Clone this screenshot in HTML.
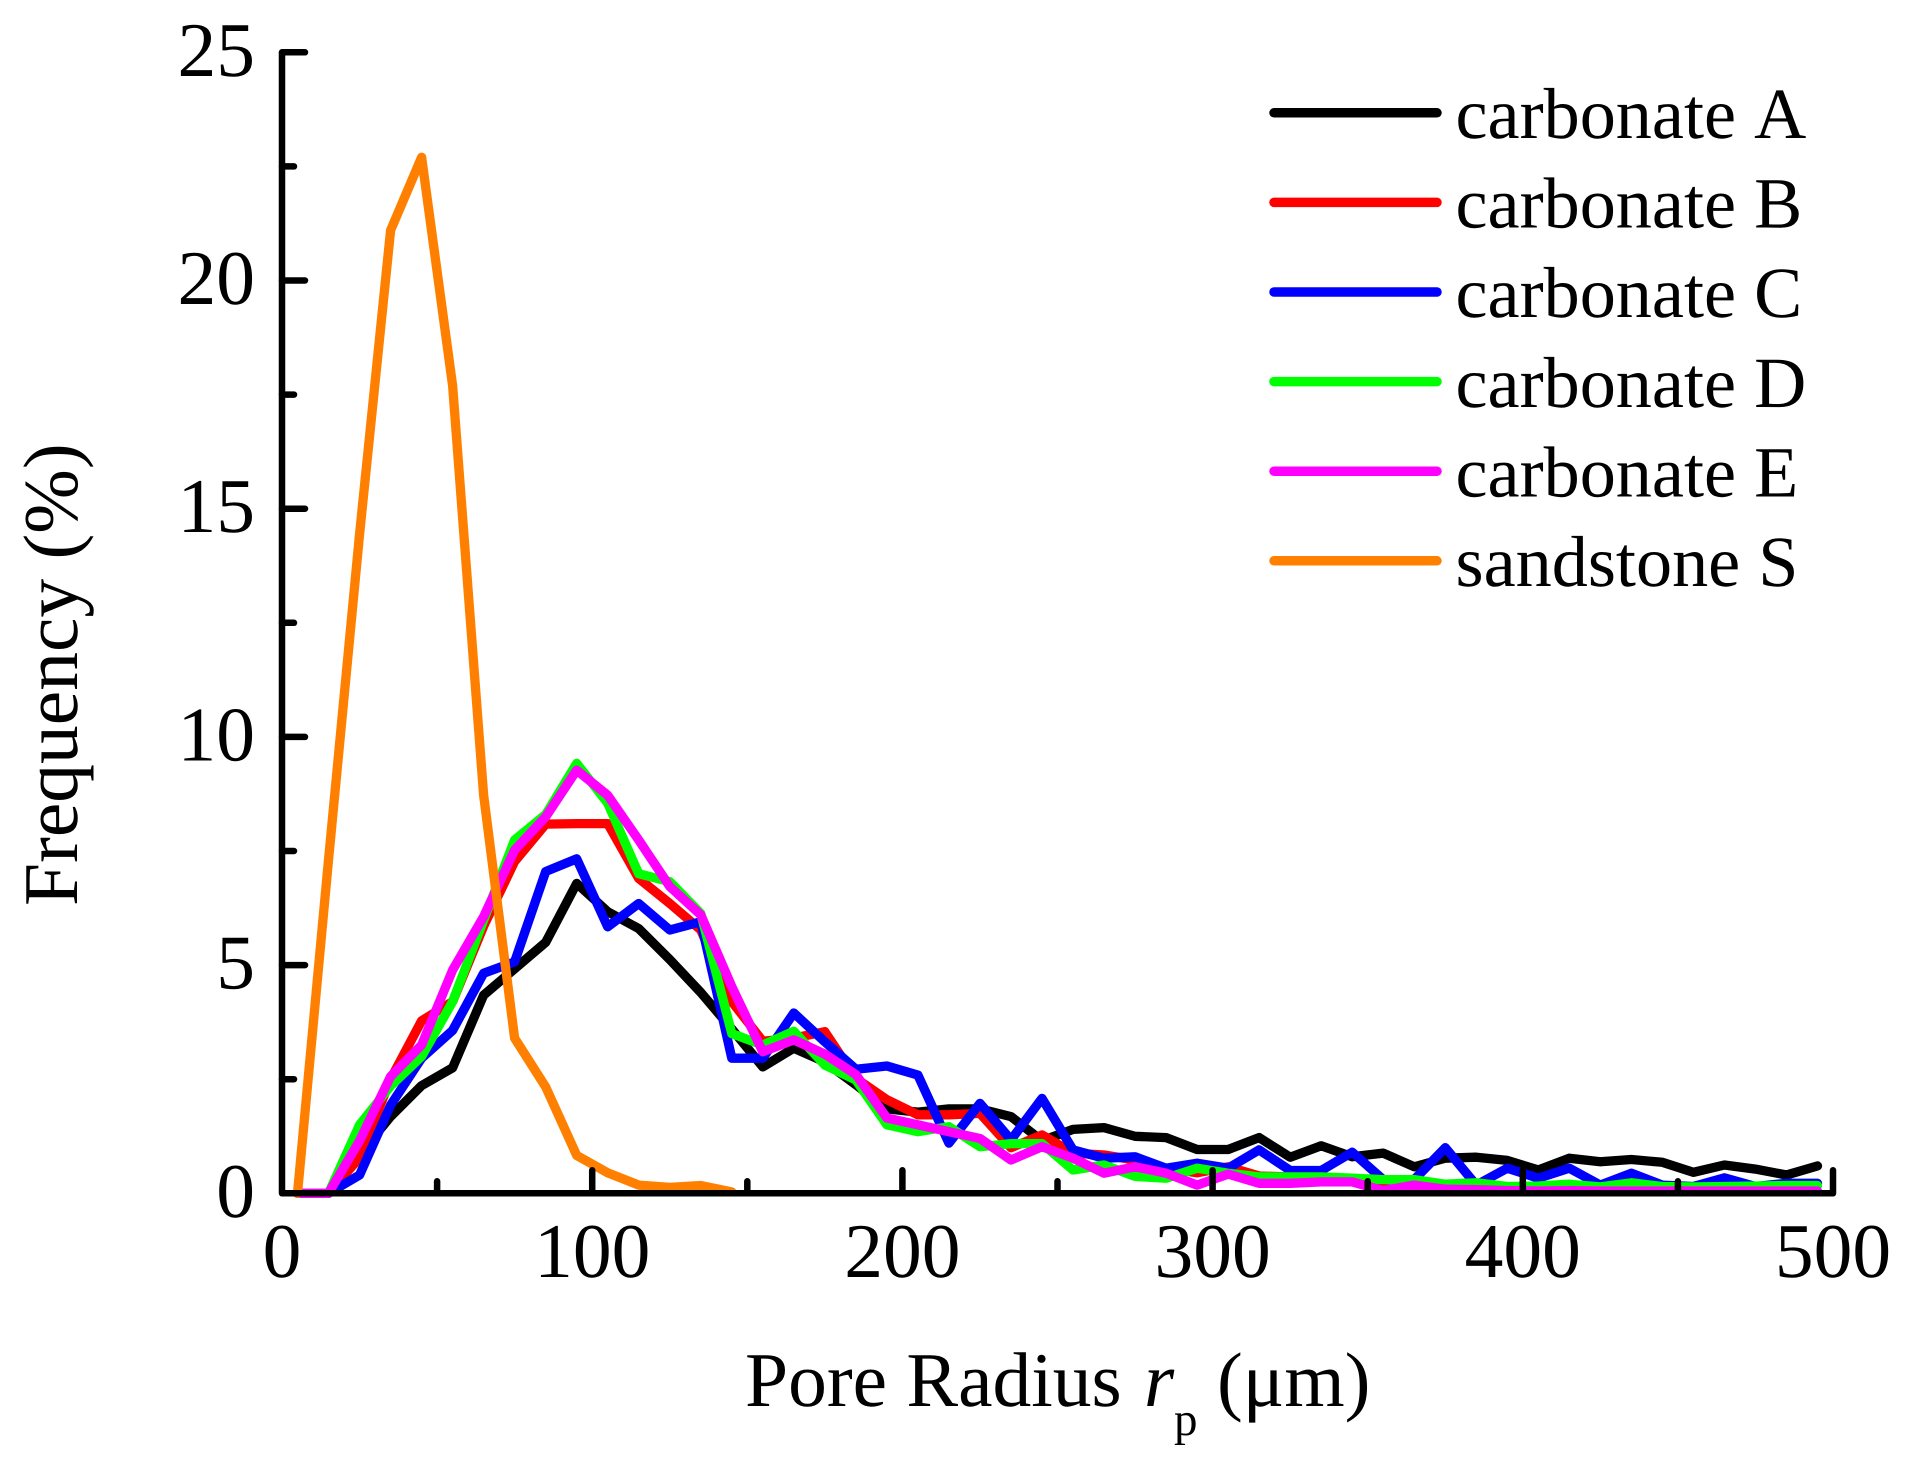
<!DOCTYPE html>
<html>
<head>
<meta charset="utf-8">
<title>Pore Radius Frequency Chart</title>
<style>
html,body{margin:0;padding:0;background:#fff;}
svg{display:block;}
text{font-family:"Liberation Serif",serif;fill:#000;font-kerning:none;text-rendering:geometricPrecision;}
</style>
</head>
<body>
<svg id="chart" xmlns="http://www.w3.org/2000/svg" width="1910" height="1462" viewBox="0 0 1910 1462">
  <rect x="0" y="0" width="1910" height="1462" fill="#fff"/>
  <g id="series-layer"></g>
  <g id="axes-layer"></g>
  <g id="legend-layer"></g>
  <text transform="translate(77 906) rotate(-90)" font-size="77.5">Frequency (%)</text>
  <g font-size="77.5">
    <text x="745" y="1406">Pore Radius</text>
    <text x="1144" y="1406" font-style="italic">r</text>
    <text x="1174" y="1435" font-size="47">p</text>
    <text x="1217" y="1406">(μm)</text>
  </g>
</svg>
<script>
const binCenters = [5,15,25,35,45,55,65,75,85,95,105,115,125,135,145,155,165,175,185,195,205,215,225,235,245,255,265,275,285,295,305,315,325,335,345,355,365,375,385,395,405,415,425,435,445,455,465,475,485,495];
const carbonateA = [0,0,0.85,1.68,2.36,2.75,4.34,4.92,5.5,6.79,6.17,5.8,5.12,4.4,3.6,2.77,3.18,2.88,2.38,1.85,1.78,1.85,1.85,1.68,1.15,1.4,1.44,1.25,1.22,0.96,0.96,1.22,0.79,1.04,0.8,0.88,0.58,0.77,0.79,0.72,0.51,0.77,0.69,0.74,0.68,0.46,0.62,0.53,0.4,0.6];
const carbonateB = [0,0,0.78,2.5,3.78,4.2,5.85,7.27,8.09,8.1,8.1,6.9,6.35,5.77,4.2,3.33,3.4,3.54,2.52,2.05,1.72,1.72,1.75,1.0,1.28,0.88,0.84,0.73,0.55,0.45,0.58,0.38,0.36,0.33,0.3,0.1,0.06,0.05,0.05,0.05,0.04,0.04,0.04,0.04,0.04,0.04,0.04,0.04,0.04,0.04];
const carbonateC = [0,0,0.4,1.93,2.96,3.57,4.82,5.07,7.05,7.33,5.84,6.35,5.77,5.95,2.96,2.96,3.95,3.32,2.72,2.79,2.59,1.1,1.97,1.17,2.08,0.95,0.77,0.8,0.55,0.66,0.55,0.95,0.5,0.5,0.9,0.3,0.3,1.0,0.18,0.55,0.33,0.55,0.18,0.44,0.18,0.15,0.34,0.15,0.22,0.22];
const carbonateD = [0,0,1.5,2.35,3.0,4.2,5.98,7.74,8.3,9.42,8.55,7.0,6.83,6.13,3.5,3.25,3.55,2.81,2.48,1.5,1.35,1.46,1.02,1.09,1.09,0.51,0.62,0.37,0.33,0.55,0.44,0.36,0.36,0.36,0.33,0.3,0.3,0.2,0.23,0.15,0.16,0.2,0.14,0.23,0.15,0.14,0.15,0.16,0.17,0.17];
const carbonateE = [0,0,1.15,2.56,3.25,4.89,6.06,7.52,8.25,9.27,8.72,7.74,6.72,6.1,4.53,3.1,3.36,3.05,2.6,1.65,1.5,1.35,1.2,0.73,1.02,0.77,0.44,0.58,0.44,0.18,0.42,0.22,0.22,0.25,0.25,0.06,0.18,0.09,0.08,0.06,0.05,0.06,0.05,0.05,0.05,0.05,0.05,0.05,0.05,0.05];
const sandstoneS = [0,7.3,14.45,21.1,22.7,17.7,8.73,3.4,2.33,0.83,0.45,0.18,0.13,0.17,0.03];
const sandstoneBins = [5,15,25,35,45,55,65,75,85,95,105,115,125,135,145];
const xMajorTicks = [100,200,300,400,500];
const xMinorTicks = [50,150,250,350,450];
const xTickLabels = [0,100,200,300,400,500];
const yMajorTicks = [5,10,15,20,25];
const yMinorTicks = [2.5,7.5,12.5,17.5,22.5];
const yTickLabels = [0,5,10,15,20,25];
const legendLabels = ["carbonate A","carbonate B","carbonate C","carbonate D","carbonate E","sandstone S"];
const seriesColors = ["#000000","#ff0000","#0000ff","#00ff00","#ff00ff","#ff8000"];

const SVGNS = "http://www.w3.org/2000/svg";
const xScale = v => 282 + (v / 500) * 1551;
const yScale = v => 1193.3 - (v / 25) * 1141;

const seriesLayer = document.getElementById("series-layer");
const axesLayer = document.getElementById("axes-layer");
const legendLayer = document.getElementById("legend-layer");

function addLine(parent, x1, y1, x2, y2, color, width) {
  const l = document.createElementNS(SVGNS, "line");
  l.setAttribute("x1", x1);
  l.setAttribute("y1", y1);
  l.setAttribute("x2", x2);
  l.setAttribute("y2", y2);
  l.setAttribute("stroke", color);
  l.setAttribute("stroke-width", width);
  l.setAttribute("stroke-linecap", "round");
  parent.appendChild(l);
  return l;
}

function addText(parent, x, y, str, size, anchor) {
  const t = document.createElementNS(SVGNS, "text");
  t.setAttribute("x", x);
  t.setAttribute("y", y);
  t.setAttribute("font-size", size);
  t.setAttribute("text-anchor", anchor);
  t.textContent = str;
  parent.appendChild(t);
  return t;
}

function addSeries(xs, ys, color, width, name) {
  const p = document.createElementNS(SVGNS, "polyline");
  p.setAttribute("points", xs.map((x, i) => xScale(x).toFixed(1) + "," + yScale(ys[i]).toFixed(1)).join(" "));
  p.setAttribute("fill", "none");
  p.setAttribute("stroke", color);
  p.setAttribute("stroke-width", width);
  p.setAttribute("stroke-linejoin", "round");
  p.setAttribute("stroke-linecap", "round");
  
  
  seriesLayer.appendChild(p);
}

/* axes */
const axisPath = document.createElementNS(SVGNS, "polyline");
axisPath.setAttribute("points", xScale(0) + "," + yScale(25) + " " + xScale(0) + "," + yScale(0) + " " + xScale(500) + "," + yScale(0));
axisPath.setAttribute("fill", "none");
axisPath.setAttribute("stroke", "#000");
axisPath.setAttribute("stroke-width", "6.5");
axisPath.setAttribute("stroke-linejoin", "round");


axesLayer.appendChild(axisPath);

xMajorTicks.forEach(v => {
  const tick = addLine(axesLayer, xScale(v), yScale(0), xScale(v), yScale(0) - 23, "#000", 6.5);
  
  
});
xMinorTicks.forEach(v => {
  const tick = addLine(axesLayer, xScale(v), yScale(0), xScale(v), yScale(0) - 12, "#000", 6.5);
  
  
});
yMajorTicks.forEach(v => {
  const tick = addLine(axesLayer, xScale(0), yScale(v), xScale(0) + 23, yScale(v), "#000", 6.5);
  
  
});
yMinorTicks.forEach(v => {
  const tick = addLine(axesLayer, xScale(0), yScale(v), xScale(0) + 12, yScale(v), "#000", 6.5);
  
  
});
xTickLabels.forEach(v => {
  const label = addText(axesLayer, xScale(v), 1277, String(v), 77.5, "middle");
  
  
});
yTickLabels.forEach(v => {
  const label = addText(axesLayer, 255, yScale(v) + 23.5, String(v), 77.5, "end");
  
  
});

/* series */
addSeries(binCenters, carbonateA, seriesColors[0], 9.3, "series-carbonate-a");
addSeries(binCenters, carbonateB, seriesColors[1], 9.3, "series-carbonate-b");
addSeries(binCenters, carbonateC, seriesColors[2], 9.3, "series-carbonate-c");
addSeries(binCenters, carbonateD, seriesColors[3], 9.3, "series-carbonate-d");
addSeries(binCenters, carbonateE, seriesColors[4], 9.3, "series-carbonate-e");
addSeries(sandstoneBins, sandstoneS, seriesColors[5], 9.3, "series-sandstone-s");

/* legend */
legendLabels.forEach((label, i) => {
  const y = 112.8 + i * 89.6;
  const swatch = addLine(legendLayer, 1274, y, 1437, y, seriesColors[i], 9.5);
  
  
  const text = addText(legendLayer, 1455.5, 138 + i * 89.6, label, 72.2, "start");
  
  
});
</script>
</body>
</html>
